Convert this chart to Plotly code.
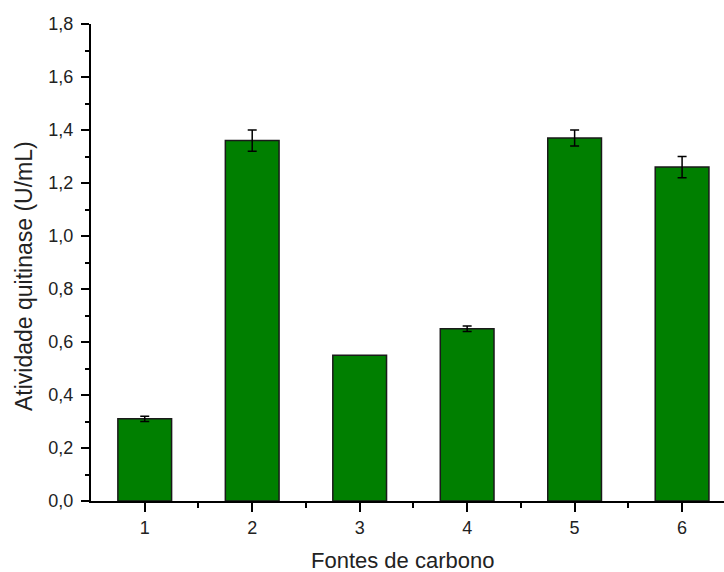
import plotly.graph_objects as go

# Quitinase activity by carbon source
fontes = [1, 2, 3, 4, 5, 6]
atividade = [0.31, 1.36, 0.55, 0.65, 1.37, 1.26]
desvio = [0.01, 0.04, 0.0, 0.01, 0.03, 0.04]

titulo_x = "Fontes de carbono"
titulo_y = "Atividade quitinase (U/mL)"

bar_style = dict(color="#007F00", line=dict(color="#1a1a1a", width=1.5))

fig = go.Figure()
# bars with a measured deviation get error bars; the rest are plain
com_erro = [i for i, d in enumerate(desvio) if d > 0]
sem_erro = [i for i, d in enumerate(desvio) if d <= 0]

fig.add_trace(go.Bar(
    x=[fontes[i] for i in com_erro],
    y=[atividade[i] for i in com_erro],
    width=0.5,
    marker=bar_style,
    error_y=dict(type="data", array=[desvio[i] for i in com_erro],
                 color="black", thickness=1.5, width=4.5),
))
fig.add_trace(go.Bar(
    x=[fontes[i] for i in sem_erro],
    y=[atividade[i] for i in sem_erro],
    width=0.5,
    marker=bar_style,
))

family = "Arial, 'Liberation Sans', sans-serif"
W, H = 724, 572
ML, MR, MT, MB = 91, 0, 24, 71
plot_w = W - ML - MR
plot_h = H - MT - MB

fig.update_layout(
    width=W,
    height=H,
    margin=dict(l=ML, r=MR, t=MT, b=MB),
    plot_bgcolor="white",
    paper_bgcolor="white",
    separators=",.",
    showlegend=False,
    barmode="overlay",
    font=dict(family=family, size=18, color="#222"),
)

fig.update_xaxes(
    range=[0.5, 6.39],
    tickmode="array",
    tickvals=fontes,
    ticktext=[str(v) for v in fontes],
    showline=True, linecolor="black", linewidth=2,
    ticks="outside", ticklen=9, tickwidth=2, tickcolor="black",
    showgrid=False, zeroline=False,
    tickfont=dict(size=18),
    minor=dict(tickmode="array", tickvals=[1.5, 2.5, 3.5, 4.5, 5.5],
               ticks="outside", ticklen=5, tickwidth=2, tickcolor="black"),
)

fig.update_yaxes(
    range=[0, 1.8],
    tickmode="linear", tick0=0, dtick=0.2,
    tickformat=".1f",
    showline=True, linecolor="black", linewidth=2,
    ticks="outside", ticklen=8, tickwidth=2, tickcolor="black",
    ticklabelstandoff=4,
    showgrid=False, zeroline=False,
    tickfont=dict(size=18),
    minor=dict(dtick=0.1, ticks="outside", ticklen=4, tickwidth=2, tickcolor="black"),
)

# axis titles placed as paper annotations
fig.add_annotation(
    text=titulo_x, xref="paper", yref="paper",
    x=(402 - ML) / plot_w, y=-(560 - (H - MB)) / plot_h,
    xanchor="center", yanchor="middle", showarrow=False,
    font=dict(size=22, color="#222"),
)
fig.add_annotation(
    text=titulo_y, xref="paper", yref="paper",
    x=-(ML - 24) / plot_w, y=((H - MB) - 276) / plot_h,
    xanchor="center", yanchor="middle", showarrow=False, textangle=-90,
    font=dict(size=23, color="#222"),
)

fig.write_html("out.html")
